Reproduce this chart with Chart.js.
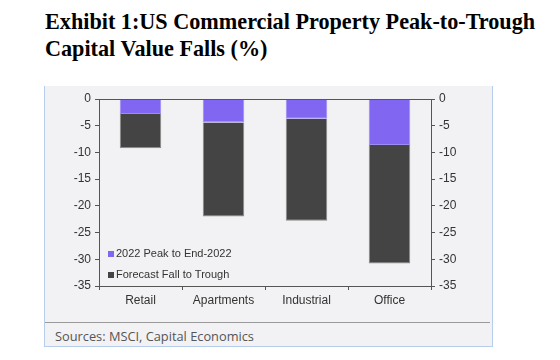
<!DOCTYPE html>
<html><head><meta charset="utf-8">
<script src="https://cdn.jsdelivr.net/npm/chart.js@4"></script>
<style>
html,body{margin:0;padding:0;background:#fff;width:560px;height:360px;overflow:hidden;}
#title{position:absolute;left:45px;top:8px;font-family:"Liberation Serif","DejaVu Serif",serif;font-weight:bold;font-size:22.2px;line-height:27px;color:#000;white-space:nowrap;}
#panel{position:absolute;left:44px;top:86px;width:447px;height:260px;background:#f2f2f4;border-left:1px solid #b7cdec;border-right:1px solid #b7cdec;border-bottom:1px solid #b7cdec;}
#wrap{position:absolute;left:0;top:0;width:448px;height:236px;}
#sep{position:absolute;left:0;top:236px;width:445px;height:0;border-top:1px solid #9a9a9a;}
#src{position:absolute;left:10px;top:241px;font-family:"Open Sans","Noto Sans",sans-serif;font-size:12.8px;color:#555;white-space:nowrap;}
</style></head>
<body>
<div id="title">Exhibit 1:US Commercial Property Peak-to-Trough<br>Capital Value Falls (%)</div>
<div id="panel">
  <div id="wrap"><canvas id="c"></canvas></div>
  <div id="sep"></div>
  <div id="src">Sources: MSCI, Capital Economics</div>
</div>
<script>
const categories = ["Retail", "Apartments", "Industrial", "Office"];
const peakToEnd2022 = [-2.8, -4.4, -3.7, -8.6];
const forecastToTrough = [-6.4, -17.6, -19.1, -22.2];
const seriesLabels = ["2022 Peak to End-2022", "Forecast Fall to Trough"];
const yTicks = [0, -5, -10, -15, -20, -25, -30, -35];

const tickFont = {family: "'Liberation Sans', Arial, sans-serif", size: 12};

const frame = {
  id: 'frame',
  afterDraw(chart) {
    const ctx = chart.ctx, a = chart.chartArea;
    ctx.save();
    ctx.strokeStyle = '#555';
    ctx.lineWidth = 1;
    ctx.beginPath();
    ctx.moveTo(a.left, Math.round(a.top) + 0.5);
    ctx.lineTo(a.right, Math.round(a.top) + 0.5);
    ctx.stroke();
    // legend inside plot
    ctx.font = "11px 'Liberation Sans', Arial, sans-serif";
    ctx.textBaseline = 'middle';
    chart.data.datasets.forEach((ds, i) => {
      const y = a.top + 155 + i * 21;
      const x = a.left + 9;
      ctx.fillStyle = ds.backgroundColor;
      ctx.fillRect(x, y - 3, 6, 6);
      ctx.fillStyle = '#333';
      ctx.fillText(ds.label, x + 8, y);
    });
    ctx.restore();
  }
};

new Chart(document.getElementById('c'), {
  type: 'bar',
  data: {
    labels: categories,
    datasets: [
      {label: seriesLabels[0], data: peakToEnd2022, backgroundColor: '#8066f0', borderColor: '#9d8cf4', borderWidth: 1, yAxisID: 'y'},
      {label: seriesLabels[1], data: forecastToTrough, backgroundColor: '#444444', borderColor: '#8a8a8a', borderWidth: 1, yAxisID: 'y'}
    ]
  },
  options: {
    responsive: true,
    maintainAspectRatio: false,
    animation: false,
    layout: {padding: {top: 13, bottom: 14, left: 0, right: 0}},
    plugins: {legend: {display: false}, tooltip: {enabled: false}},
    datasets: {bar: {barPercentage: 0.5, categoryPercentage: 1}},
    scales: {
      x: {
        stacked: true,
        grid: {display: true, drawOnChartArea: false, offset: true, tickLength: 4, color: '#555'},
        border: {color: '#555', width: 1},
        ticks: {color: '#333', font: tickFont, padding: 3},
        afterFit(s) { s.height = 22; }
      },
      y: {
        stacked: true,
        position: 'left',
        min: -35, max: 0,
        afterBuildTicks(s) { s.ticks = yTicks.map(v => ({value: v})); },
        grid: {display: true, drawOnChartArea: false, tickLength: 4, color: '#555'},
        border: {color: '#555', width: 1},
        ticks: {color: '#333', font: tickFont, padding: 4},
        afterFit(s) { s.width = 54; }
      },
      y2: {
        position: 'right',
        min: -35, max: 0,
        afterBuildTicks(s) { s.ticks = yTicks.map(v => ({value: v})); },
        grid: {display: true, drawOnChartArea: false, tickLength: 4, color: '#555'},
        border: {color: '#555', width: 1},
        ticks: {color: '#333', font: tickFont, padding: 4},
        afterFit(s) { s.width = 62; }
      }
    }
  },
  plugins: [frame]
});
</script>
</body></html>
